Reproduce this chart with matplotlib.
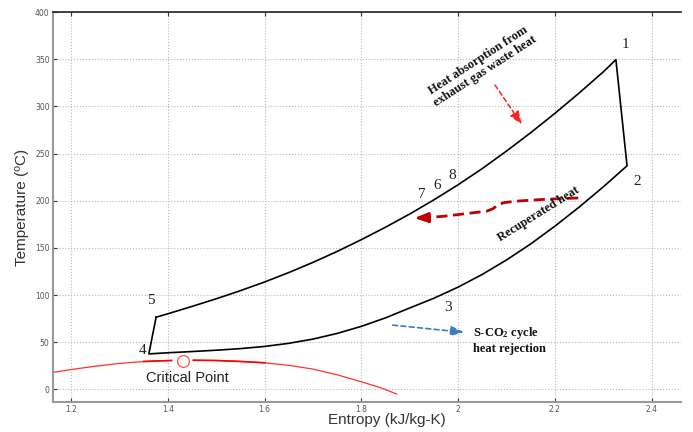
import numpy as np
import matplotlib
matplotlib.use('Agg')
import matplotlib.pyplot as plt

# cycle state points
# upper branch 5 -> 1 (heating), lower branch 4 -> 2
s_upper = [1.376, 1.40, 1.45, 1.50, 1.55, 1.60, 1.65, 1.70, 1.75, 1.80, 1.85,
           1.90, 1.95, 2.00, 2.05, 2.10, 2.15, 2.20, 2.25, 2.30, 2.326]
T_upper = [76.5, 80.1, 87.9, 96.0, 104.6, 113.8, 123.8, 134.6, 146.2, 158.7, 171.9,
           185.9, 200.9, 216.9, 234.1, 252.6, 272.1, 292.6, 314.1, 336.6, 349.5]

s_lower = [1.361, 1.40, 1.45, 1.50, 1.55, 1.60, 1.65, 1.70, 1.75, 1.80, 1.85,
           1.90, 1.95, 2.00, 2.05, 2.10, 2.15, 2.20, 2.25, 2.30, 2.349]
T_lower = [37.6, 38.8, 40.1, 41.5, 43.2, 45.5, 48.8, 53.3, 59.3, 66.8, 75.8,
           86.3, 96.6, 108.4, 121.9, 137.2, 154.2, 173, 193.2, 214.7, 237]

# saturation dome (left / right of the critical point)
s_dome_l = [1.163, 1.2, 1.25, 1.3, 1.35, 1.38, 1.408]
T_dome_l = [18, 21, 24.5, 27.5, 29.5, 30.2, 30.6]
s_dome_r = [1.453, 1.5, 1.55, 1.6, 1.65, 1.7, 1.75, 1.8, 1.84, 1.873]
T_dome_r = [30.9, 30.6, 29.6, 28.2, 25.5, 21.5, 15.5, 8, 1.8, -5]
crit_s, crit_T = 1.432, 30.5

# point labels
pt_names = ['1', '2', '3', '4', '5', '7', '6', '8']
pt_s = [2.345, 2.369, 1.979, 1.349, 1.365, 1.925, 1.956, 1.987]
pt_T = [365.6, 220.5, 86.4, 41.1, 94.2, 206.4, 215.9, 226.5]

# recuperated heat arrow path
s_recup = [2.248, 2.18, 2.12, 2.095, 2.082, 2.072, 2.06, 2.02, 1.97, 1.935]
T_recup = [202.9, 201.5, 199.5, 198, 195.5, 191.5, 189, 186.5, 183.5, 182]
recup_tip = (1.904, 181.6)

fig = plt.figure(figsize=(6.93, 4.32), dpi=100)
ax = fig.add_axes([0.0765, 0.0694, 0.9062, 0.9028])

# cycle outline 4-5-...-1-2-...-4
cyc_s = s_upper + s_lower[::-1] + [s_upper[0]]
cyc_T = T_upper + T_lower[::-1] + [T_upper[0]]
ax.plot(cyc_s, cyc_T, color='black', lw=1.2, zorder=3)

ax.plot(s_dome_l, T_dome_l, color='#ff3030', lw=0.9)
ax.plot(s_dome_r, T_dome_r, color='#ff3030', lw=0.9)
ax.plot(s_dome_l[-3:], T_dome_l[-3:], color='#ff0000', lw=1.2)
ax.plot(s_dome_r[:4], T_dome_r[:4], color='#ff0000', lw=1.2)
ax.plot([crit_s], [crit_T], 'o', ms=8.5, mfc='white', mec='#ff5050', mew=0.9)

for name, s, T in zip(pt_names, pt_s, pt_T):
    ax.text(s, T, name, family='Liberation Serif', fontsize=11,
            ha='center', va='center', color='#222222')

ax.text(1.441, 12.1, 'Critical Point', family='Liberation Sans', fontsize=10.5,
        ha='center', va='center', color='#222222')

serif_bold = dict(family='Liberation Serif', fontweight='bold', fontsize=9,
                  color='#111111')
ax.text(2.048, 342.6, 'Heat absorption from\nexhaust gas waste heat', rotation=33,
        ha='center', va='center', multialignment='center',
        rotation_mode='anchor', linespacing=1.1, **serif_bold)
ax.text(2.167, 186.2, 'Recuperated heat', rotation=32, ha='center', va='center',
        rotation_mode='anchor', **serif_bold)
ax.text(2.030, 52.5, 'S-CO$\\mathregular{_2}$ cycle\nheat rejection', ha='left',
        va='center', linespacing=1.25, **serif_bold)

# arrows
ax.annotate('', xy=(2.135, 278.2), xytext=(2.073, 325),
            arrowprops=dict(arrowstyle='-|>,head_length=0.8,head_width=0.3',
                            color='#ff2020', lw=1.1, linestyle=(0, (3, 2))))
ax.annotate('', xy=(2.018, 60.2), xytext=(1.859, 68.4),
            arrowprops=dict(arrowstyle='-|>,head_length=0.8,head_width=0.3',
                            color='#3a7cc8', lw=1.2, linestyle=(0, (3, 2))))
ax.plot(s_recup, T_recup, color='#c00000', lw=2.0, dashes=(4, 2))
ax.annotate('', xy=recup_tip, xytext=(s_recup[-1], T_recup[-1]),
            arrowprops=dict(arrowstyle='-|>,head_length=0.8,head_width=0.3',
                            color='#c00000', lw=2.0))

ax.set_xlim(1.163, 2.4605)
ax.set_ylim(-13.4, 400)
ax.set_xticks([1.2, 1.4, 1.6, 1.8, 2.0, 2.2, 2.4])
ax.set_xticklabels(['1.2', '1.4', '1.6', '1.8', '2', '2.2', '2.4'])
ax.set_yticks(np.arange(0, 401, 50))
ax.grid(True, linestyle=':', color='#b8b8b8', lw=0.8)
ax.tick_params(direction='in', length=3, width=0.8, labelsize=5.5,
               labelcolor='#555555', color='#333333', top=True, right=False, pad=2.5)

ax.spines['right'].set_visible(False)
ax.spines['top'].set_color('#222222')
ax.spines['top'].set_linewidth(1.2)
for side in ['left', 'bottom']:
    ax.spines[side].set_color('#999999')
    ax.spines[side].set_linewidth(1.5)

fig.text(387 / 693, 1 - 420 / 432, 'Entropy (kJ/kg-K)', family='Liberation Sans',
         fontsize=11, ha='center', va='center', color='#333333')
fig.text(22 / 693, 1 - 207 / 432, 'Temperature (ºC)', family='Liberation Sans',
         fontsize=11, ha='center', va='center', rotation=90, color='#333333')

fig.savefig('out.png', dpi=100)
